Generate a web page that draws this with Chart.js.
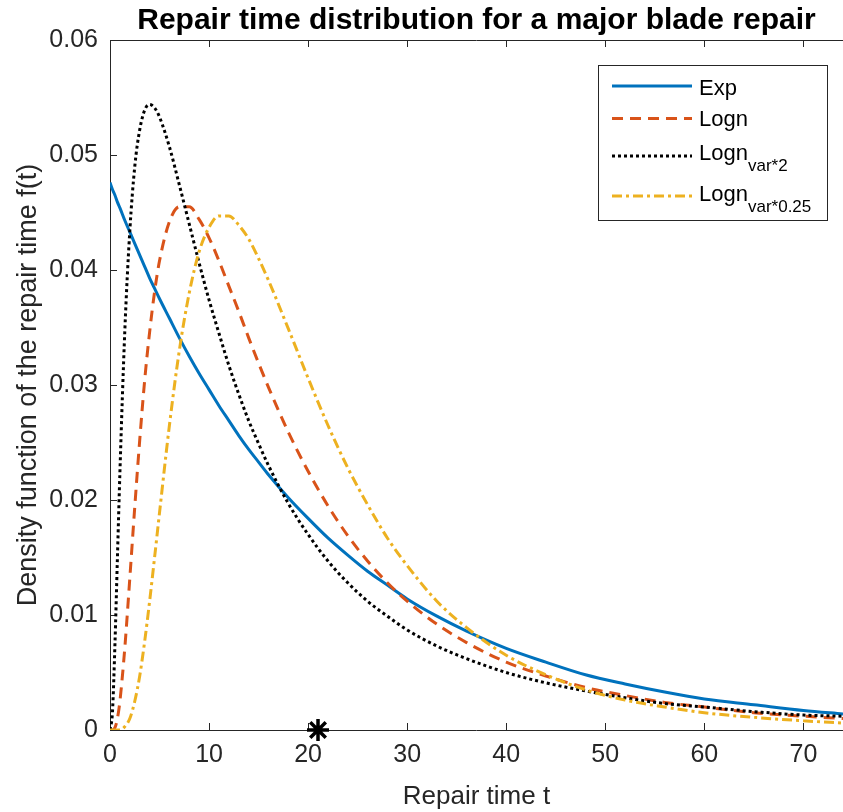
<!DOCTYPE html>
<html>
<head>
<meta charset="utf-8">
<script src="https://cdn.jsdelivr.net/npm/chart.js@4.4.1/dist/chart.umd.min.js"></script>
<style>
    html, body { margin: 0; padding: 0; background: #fff; overflow: hidden; }
    #wrap { width: 843px; height: 812px; }
</style>
</head>
<body>
<div id="wrap"><canvas id="grafico" width="843" height="812"></canvas></div>
<script>
// tempo de reparo t (dias) e densidades
const tempos = [0, 0.25, 0.5, 0.75, 1, 1.5, 2, 2.5, 3, 3.5, 4, 4.5, 5, 6, 7, 8, 9, 10, 11, 12, 13, 14, 15, 16,
    18, 20, 22, 24, 26, 28, 30, 33, 36, 40, 44, 48, 52, 56, 60, 65, 70, 74];

const expValores = [0.0476, 0.0470, 0.0465, 0.0459, 0.0454, 0.0443, 0.0433, 0.0423, 0.0413, 0.0403, 0.0393, 0.0384,
    0.0375, 0.0358, 0.0341, 0.0325, 0.0310, 0.0296, 0.0282, 0.0269, 0.0256, 0.0244, 0.0233, 0.0222,
    0.0202, 0.0184, 0.0167, 0.0152, 0.0138, 0.0126, 0.0114, 0.0099, 0.0086, 0.0071, 0.0059, 0.0048,
    0.0040, 0.0033, 0.0027, 0.0022, 0.0017, 0.0014];

const lognValores = [0, 0, 0.0002, 0.0010, 0.0025, 0.0072, 0.0132, 0.0194, 0.0252, 0.0304, 0.0346, 0.0381,
    0.0408, 0.0442, 0.0455, 0.0455, 0.0444, 0.0428, 0.0408, 0.0386, 0.0364, 0.0341, 0.0319, 0.0298,
    0.0259, 0.0225, 0.0195, 0.0169, 0.0147, 0.0128, 0.0112, 0.0092, 0.0076, 0.0059, 0.0047, 0.0037,
    0.0030, 0.0024, 0.0020, 0.0015, 0.0012, 0.0010];

const lognVar2Valores = [0, 0.0016, 0.0075, 0.0150, 0.0224, 0.0348, 0.0434, 0.0490, 0.0522, 0.0539, 0.0544, 0.0541,
    0.0533, 0.0507, 0.0474, 0.0440, 0.0406, 0.0374, 0.0345, 0.0317, 0.0292, 0.0269, 0.0249, 0.0230,
    0.0197, 0.0170, 0.0147, 0.0128, 0.0112, 0.0099, 0.0087, 0.0073, 0.0062, 0.0050, 0.0041, 0.0034,
    0.0028, 0.0023, 0.0020, 0.0016, 0.0013, 0.0012];

const lognVar025Valores = [0, 0, 0, 0, 0, 0.0003, 0.0010, 0.0025, 0.0047, 0.0077, 0.0112, 0.0150,
    0.0189, 0.0265, 0.0330, 0.0380, 0.0416, 0.0437, 0.0447, 0.0447, 0.0439, 0.0427, 0.0410, 0.0391,
    0.0349, 0.0306, 0.0265, 0.0228, 0.0196, 0.0167, 0.0143, 0.0112, 0.0089, 0.0065, 0.0048, 0.0035,
    0.0026, 0.0020, 0.0015, 0.0011, 0.0008, 0.0006];

// tempo medio de reparo (marcador *)
const mediaX = [21];
const mediaY = [0];

const xTicks = [0, 10, 20, 30, 40, 50, 60, 70];
const yTicks = [0, 0.01, 0.02, 0.03, 0.04, 0.05, 0.06];

const legendaNomes = ['Exp', 'Logn', 'Logn', 'Logn'];
const legendaSub = ['', '', 'var*2', 'var*0.25'];

const titulo = 'Repair time distribution for a major blade repair';
const FONTE = '"Liberation Sans", Arial, Helvetica, sans-serif';
const corEixo = '#262626';

function serie(valores) {
    return tempos.map((t, i) => ({ x: t, y: valores[i] }));
}

// caixa do eixo com ticks para dentro (estilo MATLAB)
const moldura = {
    id: 'moldura',
    beforeDatasetsDraw(chart) {
        const { ctx, chartArea: a, scales } = chart;
        const x = scales.x, y = scales.y;
        const tam = 7;
        ctx.save();
        ctx.strokeStyle = corEixo;
        ctx.lineWidth = 1;
        ctx.beginPath();
        ctx.moveTo(a.left + 0.5, a.top + 0.5);
        ctx.lineTo(a.left + 0.5, a.bottom + 0.5);
        ctx.moveTo(a.left, a.bottom + 0.5);
        ctx.lineTo(a.right, a.bottom + 0.5);
        ctx.moveTo(a.left, a.top + 0.5);
        ctx.lineTo(a.right, a.top + 0.5);
        for (let i = 0; i < xTicks.length; i++) {
            const px = Math.round(x.getPixelForValue(xTicks[i])) + 0.5;
            ctx.moveTo(px, a.bottom);
            ctx.lineTo(px, a.bottom - tam);
            ctx.moveTo(px, a.top);
            ctx.lineTo(px, a.top + tam);
        }
        for (let i = 0; i < yTicks.length; i++) {
            const py = Math.round(y.getPixelForValue(yTicks[i])) + 0.5;
            ctx.moveTo(a.left, py);
            ctx.lineTo(a.left + tam, py);
        }
        ctx.stroke();
        ctx.restore();
    }
};

const tituloLegenda = {
    id: 'tituloLegenda',
    afterDraw(chart) {
        const { ctx, chartArea: a } = chart;
        ctx.save();

        // titulo
        ctx.fillStyle = '#000';
        ctx.font = 'bold 30px ' + FONTE;
        ctx.textAlign = 'center';
        ctx.textBaseline = 'alphabetic';
        ctx.fillText(titulo, (a.left + a.right) / 2, 29);

        // legenda
        ctx.textAlign = 'left';
        ctx.fillStyle = '#fff';
        ctx.fillRect(598.5, 65.5, 229, 155);
        ctx.strokeStyle = corEixo;
        ctx.lineWidth = 1;
        ctx.strokeRect(598.5, 65.5, 229, 155);

        const linhaY = [86, 118.5, 156, 196];
        const baseY = [95, 126, 159.5, 201];
        for (let i = 0; i < legendaNomes.length; i++) {
            const ds = chart.data.datasets[i];
            ctx.beginPath();
            ctx.setLineDash(ds.borderDash || []);
            ctx.strokeStyle = ds.borderColor;
            ctx.lineWidth = ds.borderWidth;
            ctx.moveTo(612, linhaY[i]);
            ctx.lineTo(692, linhaY[i]);
            ctx.stroke();
            ctx.setLineDash([]);

            ctx.fillStyle = '#000';
            ctx.font = '22px ' + FONTE;
            ctx.fillText(legendaNomes[i], 699, baseY[i]);
            if (legendaSub[i]) {
                const w = ctx.measureText(legendaNomes[i]).width;
                ctx.font = '17px ' + FONTE;
                ctx.fillText(legendaSub[i], 699 + w, baseY[i] + 11);
            }
        }
        ctx.restore();
    }
};

const grafico = new Chart(document.getElementById('grafico'), {
    type: 'line',
    data: {
        datasets: [
            {
                label: 'Exp',
                data: serie(expValores),
                borderColor: '#0072BD',
                borderWidth: 3,
                pointRadius: 0,
                cubicInterpolationMode: 'monotone',
                order: 4
            },
            {
                label: 'Logn',
                data: serie(lognValores),
                borderColor: '#D95319',
                borderWidth: 3,
                borderDash: [11, 7],
                pointRadius: 0,
                cubicInterpolationMode: 'monotone',
                order: 3
            },
            {
                label: 'Logn var*2',
                data: serie(lognVar2Valores),
                borderColor: '#000000',
                borderWidth: 3,
                borderDash: [3, 3],
                pointRadius: 0,
                cubicInterpolationMode: 'monotone',
                order: 2
            },
            {
                label: 'Logn var*0.25',
                data: serie(lognVar025Valores),
                borderColor: '#EDB120',
                borderWidth: 3,
                borderDash: [10, 4, 3, 4],
                pointRadius: 0,
                cubicInterpolationMode: 'monotone',
                order: 1
            },
            {
                label: 'media',
                data: mediaX.map((v, i) => ({ x: v, y: mediaY[i] })),
                showLine: false,
                pointStyle: 'star',
                pointRadius: 11,
                pointBorderWidth: 3.5,
                pointBorderColor: '#000',
                borderColor: '#000',
                clip: false,
                order: 0
            }
        ]
    },
    options: {
        responsive: false,
        animation: false,
        events: [],
        layout: { autoPadding: false, padding: { top: 40, right: 0, left: 0, bottom: 0 } },
        plugins: {
            legend: { display: false },
            title: { display: false },
            tooltip: { enabled: false }
        },
        scales: {
            x: {
                type: 'linear',
                min: 0,
                max: 74,
                afterFit: (s) => { s.height = 82; s.paddingRight = 0; s.paddingLeft = 0; },
                afterBuildTicks: (s) => { s.ticks = xTicks.map(v => ({ value: v })); },
                grid: { display: false, drawTicks: false },
                border: { display: false },
                ticks: {
                    color: corEixo,
                    font: { family: FONTE, size: 25 },
                    padding: 10,
                    maxRotation: 0,
                    includeBounds: false
                },
                title: {
                    display: true,
                    text: 'Repair time t',
                    color: corEixo,
                    font: { family: FONTE, size: 26 },
                    padding: { top: 0, bottom: 0 }
                }
            },
            y: {
                type: 'linear',
                min: 0,
                max: 0.06,
                afterFit: (s) => { s.width = 110; s.paddingTop = 0; s.paddingBottom = 0; },
                afterBuildTicks: (s) => { s.ticks = yTicks.map(v => ({ value: v })); },
                grid: { display: false, drawTicks: false },
                border: { display: false },
                ticks: {
                    color: corEixo,
                    font: { family: FONTE, size: 25 },
                    padding: 12,
                    callback: (v) => (v === 0 ? '0' : v.toFixed(2))
                },
                title: {
                    display: true,
                    text: 'Density function of the repair time f(t)',
                    color: corEixo,
                    font: { family: FONTE, size: 27 },
                    padding: { top: 12, bottom: 0 }
                }
            }
        }
    },
    plugins: [moldura, tituloLegenda]
});
</script>
</body>
</html>
